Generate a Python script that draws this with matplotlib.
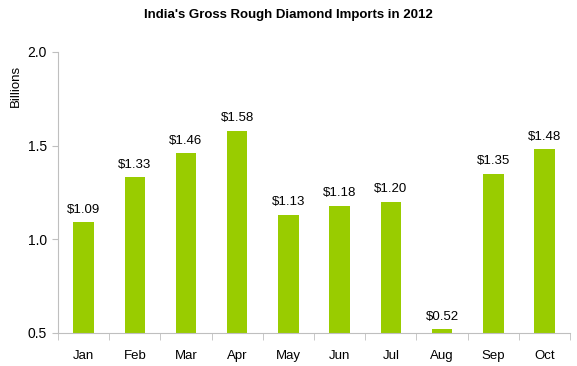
import matplotlib.pyplot as plt
import numpy as np

months = ['Jan', 'Feb', 'Mar', 'Apr', 'May', 'Jun', 'Jul', 'Aug', 'Sep', 'Oct']
imports = [1.09, 1.33, 1.46, 1.58, 1.13, 1.18, 1.20, 0.52, 1.35, 1.48]
yticks = [0.5, 1.0, 1.5, 2.0]

plt.rcParams['font.family'] = ['Liberation Sans', 'DejaVu Sans']

fig = plt.figure(figsize=(5.77, 3.66), dpi=100)
ax = fig.add_axes([0.1005, 0.0902, 0.8875, 0.7678])

x = np.arange(len(months))
bars = ax.bar(x, imports, width=0.4, color='#99CC00', zorder=2)
for xi, v in zip(x, imports):
    ax.text(xi, v + 0.035, f'${v:.2f}', ha='center', va='bottom', fontsize=9.5)

ax.set_xlim(-0.5, len(months) - 0.5)
ax.set_ylim(0.5, 2.0)
ax.set_yticks(yticks)
ax.set_yticklabels([f'{t:.1f}' for t in yticks], fontsize=10)

# category labels centered, tick marks between categories
ax.set_xticks(x)
ax.set_xticklabels(months, fontsize=9.5)
ax.tick_params(axis='x', length=0, pad=12)
ax.set_xticks(np.arange(-0.5, len(months)), minor=True)
ax.tick_params(axis='x', which='minor', length=5, color='#BFBFBF', direction='out')
ax.tick_params(axis='y', length=4, color='#BFBFBF', direction='out', pad=4)

for s in ['top', 'right']:
    ax.spines[s].set_visible(False)
for s in ['left', 'bottom']:
    ax.spines[s].set_color('#BFBFBF')

fig.text(0.5, 0.958, "India's Gross Rough Diamond Imports in 2012",
         ha='center', va='center', fontsize=9.5, fontweight='bold',
         family=['Liberation Sans Narrow', 'Liberation Sans', 'DejaVu Sans'])
fig.text(0.027, 0.765, 'Billions', rotation=90, ha='center', va='center', fontsize=9.5)

fig.savefig('out.png', dpi=100)
